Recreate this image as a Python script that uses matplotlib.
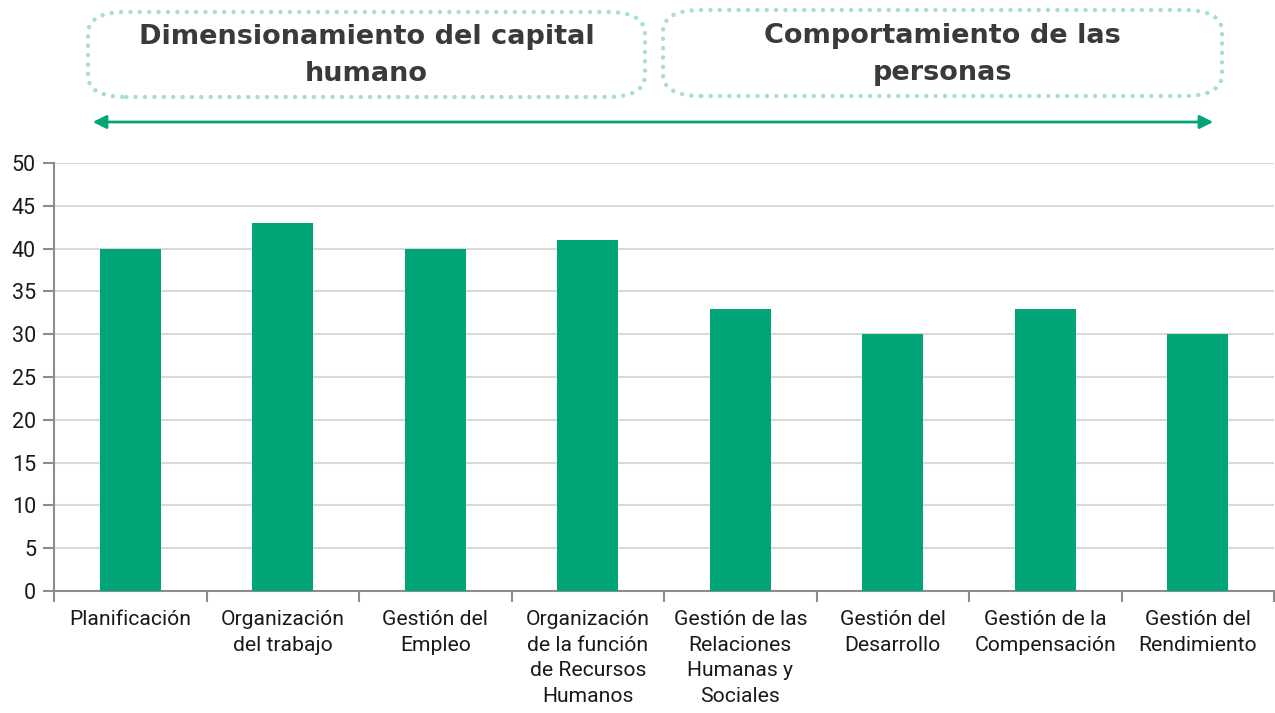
import numpy as np
import matplotlib.pyplot as plt
from matplotlib.patches import FancyBboxPatch, FancyArrowPatch

categories = [
    "Planificación",
    "Organización\ndel trabajo",
    "Gestión del\nEmpleo",
    "Organización\nde la función\nde Recursos\nHumanos",
    "Gestión de las\nRelaciones\nHumanas y\nSociales",
    "Gestión del\nDesarrollo",
    "Gestión de la\nCompensación",
    "Gestión del\nRendimiento",
]
values = [40, 43, 40, 41, 33, 30, 33, 30]
yticks = [0, 5, 10, 15, 20, 25, 30, 35, 40, 45, 50]
group_titles = ["Dimensionamiento del capital\nhumano", "Comportamiento de las\npersonas"]

plt.rcParams['font.family'] = ['Roboto', 'DejaVu Sans']

green = "#02a577"
W, H = 1275, 713
fig = plt.figure(figsize=(W / 100, H / 100), dpi=100)
ax = fig.add_axes([54 / W, 1 - 591 / H, (1274 - 54) / W, (591 - 163) / H])

x = np.arange(len(categories))
ax.bar(x, values, width=0.4, color=green, zorder=3)

ax.set_xlim(-0.5, len(categories) - 0.5)
ax.set_ylim(0, 50)
ax.set_yticks(yticks)
ax.set_xticks(x)
ax.set_xticklabels(categories, fontsize=15.2, color="#1a1a1a", linespacing=1.43)
ax.set_xticks(np.arange(len(categories) + 1) - 0.5, minor=True)
ax.tick_params(axis="x", which="major", length=0, pad=14)
ax.tick_params(axis="x", which="minor", length=8, color="#8c8c8c", width=1.5)
ax.tick_params(axis="y", length=8, color="#8c8c8c", width=1.5, labelsize=15.5, labelcolor="#1a1a1a", pad=5)
ax.grid(axis="y", color="#d9d9d9", linewidth=1.5, zorder=0)
for s in ["top", "right"]:
    ax.spines[s].set_visible(False)
for s in ["left", "bottom"]:
    ax.spines[s].set_color("#8c8c8c")
    ax.spines[s].set_linewidth(1.5)

# dotted rounded boxes with group titles
boxes = [(88, 12, 645, 97), (663, 10, 1222, 96)]
for (x0, y0, x1, y1), title in zip(boxes, group_titles):
    bx = x0 / W
    by = 1 - y1 / H
    bw = (x1 - x0) / W
    bh = (y1 - y0) / H
    p = FancyBboxPatch((bx + 0.02, by + 0.02), bw - 0.04, bh - 0.04,
                       boxstyle="round,pad=0.02,rounding_size=0.03",
                       transform=fig.transFigure, fill=False,
                       edgecolor="#a6dfca", linewidth=3.2,
                       linestyle=(0, (0.01, 2.1)))
    p.set_capstyle("round")
    fig.patches.append(p)
    fig.text(bx + bw / 2, by + bh / 2 - 0.002, title, ha="center", va="center",
             fontsize=19.5, fontweight="bold", color="#3a3a3a", linespacing=1.55,
             family=["DejaVu Sans"])

arrow = FancyArrowPatch((90 / W, 1 - 122 / H), (1216 / W, 1 - 122 / H),
                        transform=fig.transFigure, arrowstyle="<|-|>",
                        mutation_scale=20, color=green, linewidth=2)
fig.patches.append(arrow)

fig.savefig("out.png", dpi=100)
